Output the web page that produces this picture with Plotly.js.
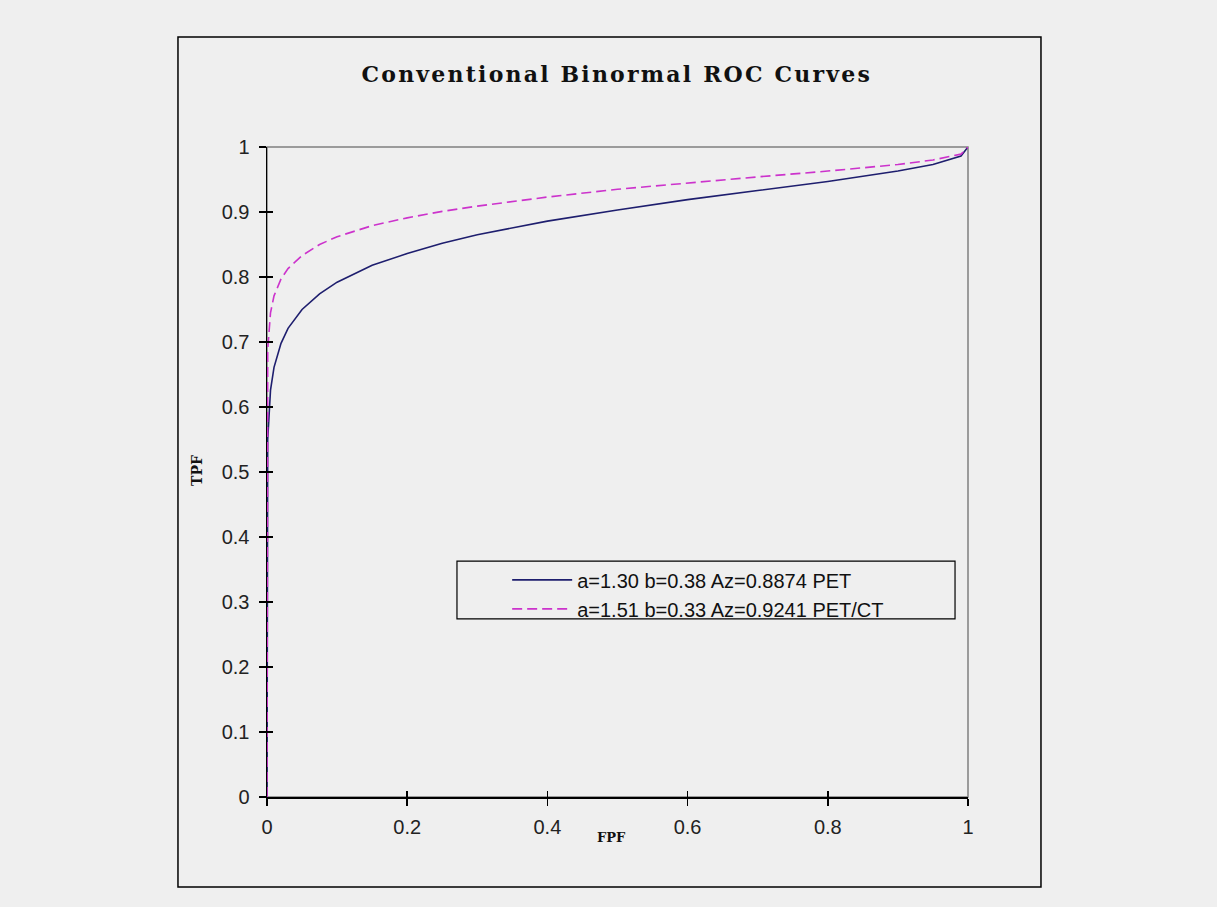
<!DOCTYPE html>
<html>
<head>
<meta charset="utf-8">
<script src="https://cdn.plot.ly/plotly-3.0.1.min.js"></script>
<style>
  html, body { margin: 0; padding: 0; background: #efefef; }
  #chart { width: 1217px; height: 907px; }
</style>
</head>
<body>
<div id="chart"></div>
<script>
// False positive fraction values (x) shared by both curves
const fpf = [0, 1e-8, 1e-6, 0.0001, 0.001, 0.005, 0.01, 0.02, 0.03, 0.05, 0.075, 0.1, 0.15, 0.2, 0.25, 0.3, 0.4, 0.5, 0.6, 0.7, 0.8, 0.9, 0.95, 0.99, 1];
// True positive fraction, PET (a=1.30 b=0.38)
const tpfPET = [0, 0.20, 0.31, 0.455, 0.55, 0.626, 0.661, 0.698, 0.721, 0.750, 0.774, 0.792, 0.818, 0.836, 0.852, 0.865, 0.886, 0.903, 0.919, 0.933, 0.947, 0.963, 0.973, 0.986, 1];
// True positive fraction, PET/CT (a=1.51 b=0.33)
const tpfPETCT = [0, 0.37, 0.48, 0.611, 0.688, 0.745, 0.771, 0.797, 0.813, 0.833, 0.850, 0.862, 0.879, 0.891, 0.901, 0.909, 0.923, 0.935, 0.945, 0.954, 0.963, 0.973, 0.980, 0.989, 1];

const names = ["a=1.30 b=0.38 Az=0.8874 PET", "a=1.51 b=0.33 Az=0.9241 PET/CT"];
const tickVals = [0, 0.1, 0.2, 0.3, 0.4, 0.5, 0.6, 0.7, 0.8, 0.9, 1];
const xTickVals = [0, 0.2, 0.4, 0.6, 0.8, 1];
const titleText = "Conventional Binormal ROC Curves";

const traces = [
  { x: fpf, y: tpfPET, type: "scatter", mode: "lines", name: names[0],
    line: { color: "#1e1e6e", width: 1.6 } },
  { x: fpf, y: tpfPETCT, type: "scatter", mode: "lines", name: names[1],
    line: { color: "#cc33cc", width: 1.6, dash: "10px,5px" } },
  // invisible helper so the overlaid tick-only axes are drawn
  { x: fpf, y: tpfPET, type: "scatter", mode: "lines", xaxis: "x2", yaxis: "y2",
    showlegend: false, hoverinfo: "skip", opacity: 0, line: { width: 0 } }
];

const tickFont = { family: "Liberation Sans, Arial, sans-serif", size: 20, color: "#222" };

const layout = {
  width: 1217, height: 907,
  paper_bgcolor: "#efefef", plot_bgcolor: "#efefef",
  margin: { l: 267, r: 249, t: 147, b: 110 },
  showlegend: true,
  title: {
    text: titleText,
    font: { family: "DejaVu Serif, serif", size: 22, color: "#111", weight: "bold" },
    x: 0.499, xref: "paper", xanchor: "center",
    y: 1 - 74 / 907, yref: "container", yanchor: "middle"
  },
  xaxis: {
    range: [0, 1], tickvals: xTickVals, ticktext: xTickVals.map(String),
    showgrid: false, zeroline: false, showline: true, linecolor: "#000", linewidth: 1.5,
    ticks: "outside", ticklen: 7, tickcolor: "#000", tickwidth: 1.5,
    ticklabelstandoff: 4, tickfont: tickFont, fixedrange: true
  },
  xaxis2: {
    overlaying: "x", matches: "x", anchor: "y", side: "bottom", tickvals: xTickVals,
    showgrid: false, zeroline: false, showline: false,
    ticks: "inside", ticklen: 6, tickcolor: "#000", tickwidth: 1.5, showticklabels: false
  },
  yaxis: {
    range: [0, 1], tickvals: tickVals, ticktext: tickVals.map(String),
    showgrid: false, zeroline: false, showline: true, linecolor: "#000", linewidth: 1.5,
    ticks: "outside", ticklen: 7, tickcolor: "#000", tickwidth: 1.5,
    ticklabelstandoff: 5, tickfont: tickFont, fixedrange: true
  },
  yaxis2: {
    overlaying: "y", matches: "y", anchor: "x", side: "left", tickvals: tickVals,
    showgrid: false, zeroline: false, showline: false,
    ticks: "inside", ticklen: 6, tickcolor: "#000", tickwidth: 1.5, showticklabels: false
  },
  legend: {
    x: 0.3426, y: 0.364, xanchor: "left", yanchor: "top",
    bgcolor: "rgba(0,0,0,0)", borderwidth: 0,
    font: { family: "Liberation Sans, Arial, sans-serif", size: 20, color: "#111" },
    itemwidth: 60, tracegroupgap: 0
  },
  annotations: [
    { text: "FPF", xref: "paper", yref: "paper", x: 0.492, y: -0.063, xanchor: "center", yanchor: "middle",
      showarrow: false, font: { family: "DejaVu Serif, serif", size: 13, color: "#111", weight: "bold" } },
    { text: "TPF", xref: "paper", yref: "paper", x: -0.0999, y: 0.503, xanchor: "center", yanchor: "middle",
      showarrow: false, textangle: -90,
      font: { family: "DejaVu Serif, serif", size: 14, color: "#111", weight: "bold" } }
  ],
  shapes: [
    { type: "rect", xref: "paper", yref: "paper", x0: -0.127, x1: 1.1041, y0: -0.1385, y1: 1.1692,
      line: { color: "#000", width: 1.5 }, layer: "below" },
    { type: "rect", xref: "paper", yref: "paper", x0: 0, x1: 1, y0: 0, y1: 1,
      line: { color: "#808080", width: 1.5 }, layer: "below" },
    { type: "rect", xref: "paper", yref: "paper", x0: 0.271, x1: 0.9815, y0: 0.274, y1: 0.363,
      line: { color: "#000", width: 1.2 }, layer: "above" }
  ]
};

Plotly.newPlot("chart", traces, layout, { displayModeBar: false, staticPlot: true }).then(function () {
  const t = document.querySelector(".gtitle");
  if (t) { t.style.letterSpacing = "2.2px"; }
});
</script>
</body>
</html>
